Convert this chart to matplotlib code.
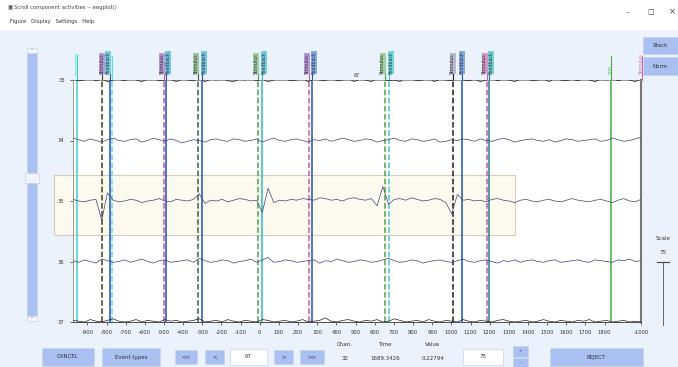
import numpy as np
import matplotlib
matplotlib.use("Agg")
import matplotlib.pyplot as plt
import matplotlib.transforms as mtransforms
from matplotlib.patches import Rectangle

# ---- data ----
channels = [33, 34, 35, 36, 37]
scale_uv = 75
n_samples = 100
t_start, t_end = -975, 1990

trace_33 = [1, -1, 0, 2, -1, 1, -2, 0, 1, -1, 2, 0, -2, 1, 2, -1, 0, 1, -2, 1,
            0, -1, 2, -2, 1, 0, 2, -1, -2, 1, 0, 2, -1, 1, -2, 0, 2, 1, -1, 0,
            2, -2, 1, 0, -1, 3, -1, 0, 2, -2, 1, 0, -2, 2, 1, -1, 0, -2, 3, 1,
            -1, 0, 2, -2, 1, 0, -1, 2, 0, -1, 1, -2, 0, 2, -1, 1, 0, -2, 1, 2,
            -1, 0, 1, -2, 2, 0, -1, 1, -1, 2, 0, -2, 1, 0, 2, -1, 1, 0, -2, 1]
trace_34 = [3, 1, -1, 2, 0, -2, 1, 3, 0, -1, 1, 2, -2, 0, 3, 1, -1, 2, 0, -3,
            -1, 1, 0, -2, 1, 2, 0, -1, 2, 1, -1, 0, 2, -2, 1, 3, 0, -1, 1, 2,
            0, -2, 1, 0, 2, -1, 1, 3, 1, -1, 0, 2, 1, -2, 0, 1, 3, 0, -1, 2,
            1, -1, 0, 2, -2, -1, 1, 0, 2, 1, -1, 2, 0, -1, 1, 3, 1, -2, 0, 1,
            2, 0, -1, 1, -2, 0, 2, 1, -1, 0, 1, 2, -1, 0, 3, 1, -1, 0, 2, 4]
trace_35 = [2, 0, -1, 1, 2, -24, 10, 1, -1, 0, 2, 1, -2, 0, 1, 3, 0, -1, 2, 1,
            0, 2, 9, -3, 1, 0, 2, -1, 1, 3, 2, 0, 1, -14, 16, -2, 1, 0, 2, 1,
            3, 2, 1, 4, 3, 1, 2, 0, 3, 4, 2, 1, 3, -6, 18, -4, 2, 3, 1, 4,
            2, 0, 1, 3, 2, -2, -16, 8, 1, 2, 0, 1, -1, 2, 3, 1, 0, -2, 1, 2,
            0, -1, 1, 2, 0, -1, 1, 3, 1, 0, -1, 1, 2, 0, -2, 1, 3, 0, -1, 2]
trace_36 = [1, -1, 2, 0, -2, 3, 1, -1, 0, 2, -1, 1, 3, 0, -2, 1, 2, -1, 0, 1,
            2, -1, 4, 1, -1, 0, 2, 1, -2, 0, 1, 3, -1, 2, 5, -1, 0, 2, 1, -1,
            0, 1, 2, -2, 1, 0, 3, 1, -1, 0, 2, 1, -1, 0, 2, 4, 1, -1, 0, 2,
            1, -2, 0, 1, 2, 0, -1, 1, 3, 0, -1, 1, 2, 0, -2, 1, 0, 2, -1, 1,
            2, 0, -1, 1, 2, -1, 0, 1, 2, 0, -1, 2, 1, 0, -1, 2, 1, 3, 0, 1]
trace_37 = [2, 1, 0, 3, 1, 0, 2, 4, 1, 0, 1, 3, 0, 2, 1, 0, 3, 1, 2, 0,
            1, 2, 4, 0, 1, 2, 0, 3, 1, 0, 2, 1, 0, 3, 2, 0, 1, 2, 0, 1,
            3, 0, 1, 2, 5, 1, 0, 2, 3, 1, 0, 2, 1, 3, 0, 1, 4, 2, 0, 1,
            2, 0, 3, 1, 0, 2, 1, 0, 3, 1, 0, 2, 1, 0, 2, 3, 1, 0, 1, 2,
            0, 1, 3, 1, 0, 2, 1, 0, 2, 1, 3, 0, 1, 2, 0, 1, 2, 0, 1, 0]
traces = [trace_33, trace_34, trace_35, trace_36, trace_37]
trace_colors = ["#202020", "#404078", "#404078", "#404078", "#202020"]

event_times = [-955, -824, -782, -772, -501, -490, -323, -303, -10, 10,
               256, 271, 652, 673, 1007, 1054, 1184, 1195, 1836, 1993]
event_colors = ["#40d0d0", "#404020", "#2050c0", "#60d8e8", "#c060a0", "#2050c0",
                "#406040", "#2050c0", "#50a050", "#30b8c8", "#c060a0", "#2050c0",
                "#50a050", "#40c8d8", "#202020", "#2050c0", "#c060a0", "#208090",
                "#40b040", "#d070b0"]
event_styles = ["-", "--", "-", "--", "--", "-", "--", "-", "--", "-",
                "--", "-", "--", "--", "--", "-", "--", "-", "-", "--"]
event_labels = ["boundary", "Stimulus", "Feedback", "", "Stimulus", "Feedback",
                "Stimulus", "Feedback", "Stimulus", "Feedback", "Stimulus", "Feedback",
                "Stimulus", "Feedback", "Stimulus", "Feedback", "Stimulus", "Feedback",
                "200", "Stimulus"]
label_boxes = [None, "#b898d8", "#70d0e0", None, "#b898d8", "#70c8e0",
               "#a0c8a0", "#70c8e0", "#a0d0a0", "#70d0e0", "#b898d8", "#80a8e8",
               "#a0d0a0", "#70d8e0", "#b8b8d0", "#80a8e8", "#d098c8", "#70d0d0",
               None, None]

xticks = [-900, -800, -700, -600, -500, -400, -300, -200, -100, 0, 100, 200, 300,
          400, 500, 600, 700, 800, 900, 1000, 1100, 1200, 1300, 1400, 1500, 1600,
          1700, 1800, 1990]
xtick_labels = [str(v) for v in xticks[:-1]] + ["-1000"]

W, H = 678, 367
BG = "#ecf2fb"
BTN = "#a9c0f0"


def fx(px):
    return px / W


def fy(py):
    return 1 - py / H


fig = plt.figure(figsize=(W / 100, H / 100), dpi=100, facecolor=BG)

# title bar + menu
fig.add_artist(Rectangle((0, fy(30)), 1, 30 / H, transform=fig.transFigure,
                         facecolor="white", edgecolor="none"))
fig.text(fx(7), fy(8), "\u25a3", fontsize=4, color="#555", va="center")
fig.text(fx(14), fy(8), "Scroll component activities -- eegplot()", fontsize=3.8,
         color="#444", va="center")
fig.text(fx(10), fy(22), "Figure   Display   Settings   Help", fontsize=3.8,
         color="#333", va="center")
fig.text(fx(627), fy(12), "\u2013", fontsize=5, color="#444", ha="center", va="center")
fig.text(fx(651), fy(12), "\u25a1", fontsize=5, color="#444", ha="center", va="center")
fig.text(fx(672), fy(12), "\u00d7", fontsize=6, color="#444", ha="center", va="center")

ax = fig.add_axes([fx(73), fy(322), fx(641) - fx(73), (322 - 80) / H])
ax.set_facecolor("white")
ax.set_xlim(t_start, t_end)
ax.set_ylim(channels[-1], channels[0])

# rejection window highlight
ax.add_patch(Rectangle((fx(54), fy(235)), fx(515) - fx(54), 60 / H,
                       transform=fig.transFigure, facecolor="#fcf9ee",
                       edgecolor="#d8ccbc", lw=0.8, clip_on=False, zorder=0.5))

times = np.linspace(t_start, t_end, n_samples)
for ch, vals, col in zip(channels, traces, trace_colors):
    ax.plot(times, ch - np.array(vals) / scale_uv, color=col, lw=0.5, zorder=3)

trans = mtransforms.blended_transform_factory(ax.transData, ax.transAxes)
px_per_ms = (641 - 73) / (t_end - t_start)
for i, (t, c, ls, lab, box) in enumerate(zip(event_times, event_colors, event_styles,
                                             event_labels, label_boxes)):
    ax.axvline(t, color=c, ls=ls, lw=1.1, zorder=2)
    ax.plot([t, t], [1.0, 1.1], color=c, lw=0.8, transform=trans, clip_on=False)
    if lab:
        # nudge labels apart when two events sit very close together
        dx = 0.0
        if i + 1 < len(event_times) and (event_times[i + 1] - t) * px_per_ms < 8:
            dx = -2.0
        if i > 0 and (t - event_times[i - 1]) * px_per_ms < 8:
            dx = 2.0
        tr = trans + mtransforms.ScaledTranslation(dx / 100, 0, fig.dpi_scale_trans)
        bb = dict(boxstyle="square,pad=0.1", fc=box, ec="none") if box else None
        ax.text(t, 1.025, lab, rotation=90, fontsize=3.4, color="#333" if box else c,
                ha="center", va="bottom", transform=tr, clip_on=False, bbox=bb)

ax.text(0.5, 1.01, "67", transform=ax.transAxes, fontsize=3.5, ha="center",
        va="bottom", color="#333")

ax.set_xticks(xticks)
ax.set_xticklabels(xtick_labels)
ax.set_yticks(channels)
ax.tick_params(labelsize=3.8, length=2, width=0.5, colors="#333", pad=4)
for s in ["top", "left"]:
    ax.spines[s].set_color("#888")
    ax.spines[s].set_linewidth(0.6)
ax.spines["right"].set_color("#777")
ax.spines["right"].set_linewidth(1.5)
ax.spines["bottom"].set_color("#333")
ax.spines["bottom"].set_linewidth(0.6)


def button(x0, y0, x1, y1, text, fc=BTN, fs=4):
    fig.add_artist(Rectangle((fx(x0), fy(y1)), fx(x1) - fx(x0), (y1 - y0) / H,
                             transform=fig.transFigure, facecolor=fc,
                             edgecolor="#c8d4ea", lw=0.5))
    if text:
        fig.text(fx((x0 + x1) / 2), fy((y0 + y1) / 2), text, fontsize=fs,
                 color="#333", ha="center", va="center")


# left scrollbar
button(27, 48, 37, 53, "\u02c4", fc="#f4f6fa", fs=3)
button(27, 53, 37, 173, "")
button(25, 173, 39, 183, "", fc="#f0f3f8")
button(27, 183, 37, 316, "")
button(27, 316, 37, 321, "\u02c5", fc="#f4f6fa", fs=3)

# right buttons
button(643, 37, 678, 54, "Stack")
button(643, 57, 678, 75, "Norm")
fig.text(fx(663), fy(238), "Scale", fontsize=4, color="#333", ha="center", va="center")
fig.text(fx(663), fy(252), "75", fontsize=4, color="#333", ha="center", va="center")
fig.add_artist(plt.Line2D([fx(663), fx(663)], [fy(262), fy(325)], color="#666",
                          lw=0.7, transform=fig.transFigure))
fig.add_artist(plt.Line2D([fx(657), fx(669)], [fy(262), fy(262)], color="#444",
                          lw=0.8, transform=fig.transFigure))

# bottom controls
button(42, 348, 94, 366, "CANCEL")
button(102, 348, 160, 366, "Event types")
button(175, 350, 197, 364, "<<")
button(205, 350, 224, 364, "<")
button(230, 349, 267, 365, "67", fc="white")
button(274, 350, 293, 364, ">")
button(300, 350, 324, 364, ">>")
button(463, 349, 503, 365, "75", fc="white")
button(513, 346, 528, 357, "+", fs=3)
button(513, 358, 528, 367, "-", fs=3)
button(550, 348, 643, 366, "REJECT")
for x, top, bottom in [(345, "Chan.", "32"), (385, "Time", "1689.3426"),
                       (433, "Value", "0.22794")]:
    fig.text(fx(x), fy(345), top, fontsize=4, color="#333", ha="center", va="center")
    fig.text(fx(x), fy(358), bottom, fontsize=4, color="#333", ha="center", va="center")

fig.savefig("out.png", dpi=100, facecolor=BG)
